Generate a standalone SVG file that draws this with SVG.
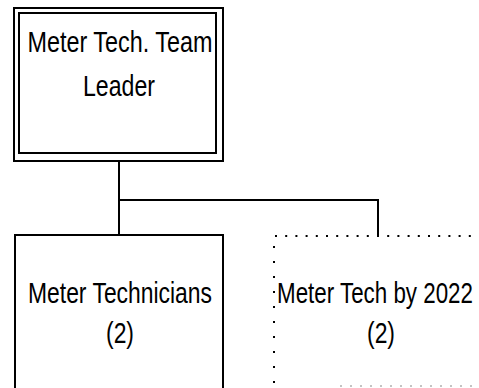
<svg xmlns="http://www.w3.org/2000/svg" width="479" height="388" viewBox="0 0 479 388">
<style>
  .bg{fill:#ffffff}
  .box{fill:#ffffff;stroke:#000000;stroke-width:2}
  .conn{fill:none;stroke:#000000;stroke-width:2}
  .dotH{fill:none;stroke:#000000;stroke-width:2.2;stroke-dasharray:2 8.2}
  .dotV{fill:none;stroke:#000000;stroke-width:2;stroke-dasharray:2 13}
  .dotB{fill:none;stroke:#b0b0b0;stroke-width:1.5;stroke-dasharray:2 8}
  text{font-family:"Liberation Sans Narrow","Liberation Sans",Arial,sans-serif;font-size:30px;fill:#000000;text-anchor:middle}
</style>
<rect class="bg" x="0" y="0" width="479" height="388"/>
<g id="connectors">
  <path class="conn" d="M119 161 V200 H378 V236"/>
  <path class="conn" d="M119 200 V235"/>
</g>
<g id="team-leader">
  <rect class="box" x="14" y="8" width="209" height="153"/>
  <rect class="box" x="19" y="13" width="197" height="140"/>
  <text x="120" y="52" textLength="185" lengthAdjust="spacingAndGlyphs">Meter Tech. Team</text>
  <text x="119" y="96" textLength="72" lengthAdjust="spacingAndGlyphs">Leader</text>
</g>
<g id="meter-technicians">
  <rect class="box" x="15" y="235" width="208" height="165"/>
  <text x="120" y="303" textLength="184" lengthAdjust="spacingAndGlyphs">Meter Technicians</text>
  <text x="120" y="343" textLength="28" lengthAdjust="spacingAndGlyphs">(2)</text>
</g>
<g id="meter-tech-2022">
  <line class="dotH" x1="275" y1="236" x2="479" y2="236"/>
  <line class="dotV" x1="274" y1="246" x2="274" y2="388"/>
  <line class="dotB" x1="340" y1="386" x2="479" y2="386"/>
  <text x="375" y="303" textLength="196" lengthAdjust="spacingAndGlyphs">Meter Tech by 2022</text>
  <text x="381" y="343" textLength="28" lengthAdjust="spacingAndGlyphs">(2)</text>
</g>
</svg>
